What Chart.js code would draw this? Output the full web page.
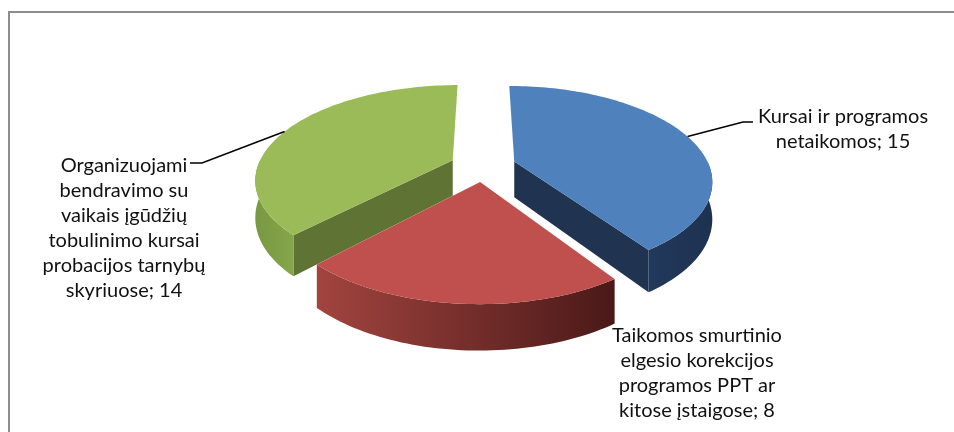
<!DOCTYPE html>
<html>
<head>
<meta charset="utf-8">
<script src="https://cdn.jsdelivr.net/npm/chart.js@4"></script>
<style>
  html, body { margin: 0; padding: 0; background: #fff; }
  #wrap { position: relative; width: 954px; height: 432px; overflow: hidden; }
  #frame { position: absolute; left: 8px; top: 11px; width: 1000px; height: 500px; border: 2px solid #8d8d8d; }
  canvas { position: absolute; left: 0; top: 0; }
</style>
</head>
<body>
<div id="wrap">
  <div id="frame"></div>
  <canvas id="pieChart" width="954" height="432"></canvas>
</div>
<script>
// Data
const categories = [
    ['Kursai ir programos', 'netaikomos'],
    ['Taikomos smurtinio', 'elgesio korekcijos', 'programos PPT ar', 'kitose įstaigose'],
    ['Organizuojami', 'bendravimo su', 'vaikais įgūdžių', 'tobulinimo kursai', 'probacijos tarnybų', 'skyriuose']
];
const values = [15, 8, 14];
const topColors = ['#4f81bd', '#c0504d', '#9bbb59'];

// 3D look (Excel style perspective pie)
const TILT = 0.47;      // vertical squash
const EYE = 5.2;        // viewer distance, in pie radii
const THICK = 36;       // pie thickness
const EXPLODE = 33;     // how far each slice is pulled out
const sideColors = [
    { wall: ['#22395c', '#1e3150'], cut: '#203452' },
    { wall: ['#a2443f', '#4a1918'], cut: '#7a2e2c' },
    { wall: ['#789842', '#86a64b'], cut: '#5e7334' }
];

// project a point of an (exploded) slice: angle a, distance r from its tip, pushed down by 'down'
function project(arc, a, r, down) {
    const h = (arc.startAngle + arc.endAngle) / 2;
    const u = Math.cos(h) * EXPLODE + Math.cos(a) * r;
    const w = Math.sin(h) * EXPLODE + Math.sin(a) * r;
    const d = EYE * arc.outerRadius;
    const m = d / (d - w);
    return { x: arc.x + u * m, y: arc.y + (TILT * w + (down || 0)) * m };
}

function rim(arc, from, to, down) {
    const n = Math.max(8, Math.ceil((to - from) * 40));
    const pts = [];
    for (let i = 0; i <= n; i++) pts.push(project(arc, from + (to - from) * i / n, arc.outerRadius, down));
    return pts;
}

function drawCut(ctx, arc, a, color) {
    const c0 = project(arc, a, 0, 0), c1 = project(arc, a, 0, THICK);
    const p0 = project(arc, a, arc.outerRadius, 0), p1 = project(arc, a, arc.outerRadius, THICK);
    ctx.beginPath();
    ctx.moveTo(c0.x, c0.y);
    ctx.lineTo(p0.x, p0.y);
    ctx.lineTo(p1.x, p1.y);
    ctx.lineTo(c1.x, c1.y);
    ctx.closePath();
    ctx.fillStyle = color;
    ctx.fill();
}

function drawWall(ctx, arc, colors) {
    const from = Math.max(arc.startAngle, 0);
    const to = Math.min(arc.endAngle, Math.PI);
    if (to <= from) return;
    const top = rim(arc, from, to, 0);
    const bottom = rim(arc, from, to, THICK).reverse();
    ctx.beginPath();
    top.concat(bottom).forEach((p, i) => i ? ctx.lineTo(p.x, p.y) : ctx.moveTo(p.x, p.y));
    ctx.closePath();
    const xs = top.map(p => p.x);
    const g = ctx.createLinearGradient(Math.min(...xs), 0, Math.max(...xs), 0);
    g.addColorStop(0, colors[0]);
    g.addColorStop(1, colors[1]);
    ctx.fillStyle = g;
    ctx.fill();
}

function drawTop(ctx, arc) {
    const tip = project(arc, 0, 0, 0);
    ctx.beginPath();
    ctx.moveTo(tip.x, tip.y);
    rim(arc, arc.startAngle, arc.endAngle, 0).forEach(p => ctx.lineTo(p.x, p.y));
    ctx.closePath();
    ctx.fillStyle = arc.options.backgroundColor;
    ctx.fill();
}

const pie3d = {
    id: 'pie3d',
    beforeDatasetsDraw(chart) {
        const ctx = chart.ctx;
        const arcs = chart.getDatasetMeta(0).data.map((arc, i) => ({ arc, i }));
        // back slices first
        arcs.sort((p, q) => project(p.arc, 0, 0, 0).y - project(q.arc, 0, 0, 0).y);
        ctx.save();
        arcs.forEach(({ arc, i }) => {
            const sc = sideColors[i];
            if (Math.cos(arc.startAngle) < -1e-6) drawCut(ctx, arc, arc.startAngle, sc.cut);
            if (Math.cos(arc.endAngle) > 1e-6) drawCut(ctx, arc, arc.endAngle, sc.cut);
            drawWall(ctx, arc, sc.wall);
            drawTop(ctx, arc);
        });
        ctx.restore();
        return false;
    }
};

// data labels, placed like the original
const labelSpots = [
    { x: 843, y: 123, edge: -17, leader: [[743, 122], [753, 122]] },
    { x: 697, y: 342 },
    { x: 124, y: 172, edge: 200, leader: [[202, 163], [190, 163]] }
];

const pieLabels = {
    id: 'pieLabels',
    afterDraw(chart) {
        const ctx = chart.ctx;
        const arcs = chart.getDatasetMeta(0).data;
        ctx.save();
        ctx.font = '20px Lato';
        ctx.fillStyle = '#111';
        ctx.textAlign = 'center';
        ctx.textBaseline = 'alphabetic';
        categories.forEach((lines, i) => {
            const spot = labelSpots[i];
            const text = lines.slice();
            text[text.length - 1] += '; ' + values[i];
            text.forEach((t, k) => ctx.fillText(t, spot.x, spot.y + k * 25));
            if (spot.leader) {
                const p = project(arcs[i], spot.edge * Math.PI / 180, arcs[i].outerRadius, 0);
                ctx.beginPath();
                ctx.moveTo(p.x, p.y);
                spot.leader.forEach(q => ctx.lineTo(q[0], q[1]));
                ctx.strokeStyle = '#000';
                ctx.lineWidth = 1.5;
                ctx.stroke();
            }
        });
        ctx.restore();
    }
};

const ctx = document.getElementById('pieChart').getContext('2d');
const pieChart = new Chart(ctx, {
    type: 'pie',
    data: {
        labels: categories.map(c => c.join(' ')),
        datasets: [{
            data: values,
            backgroundColor: topColors,
            borderWidth: 0,
            radius: 195,
            clip: false
        }]
    },
    options: {
        responsive: false,
        animation: false,
        events: [],
        layout: { padding: { left: 12, bottom: 100 } },
        plugins: {
            legend: { display: false },
            tooltip: { enabled: false }
        }
    },
    plugins: [pie3d, pieLabels]
});
</script>
</body>
</html>
